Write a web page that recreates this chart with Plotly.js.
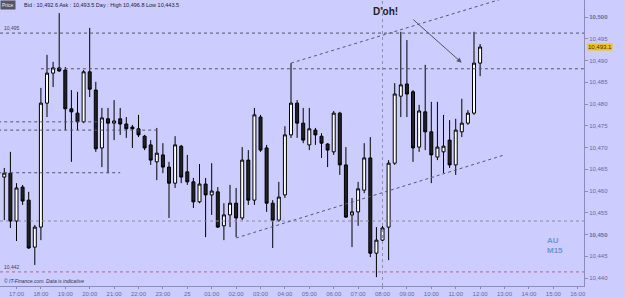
<!DOCTYPE html>
<html><head><meta charset="utf-8">
<script src="https://cdn.plot.ly/plotly-3.0.1.min.js"></script>
<style>html,body{margin:0;padding:0;background:#ccccff;}#chart{width:625px;height:298px;}</style>
</head><body><div id="chart"></div>
<script>
// 15-minute candles, first candle 16:30 on the 24th (index -2 relative to 17:00)
const firstIndex = -2;
const open  = [10463.2,10464.1,10453.1,10460.9,10457.9,10447.1,10451.7,10480.2,10487.1,10488.3,10487.8,10478.9,10477.9,10475.9,10487.4,10483.2,10469.9,10476.6,10475.6,10476.6,10475.4,10474.7,10474.3,10472.6,10470.6,10466.7,10468.3,10465.5,10461.8,10470.3,10464.4,10462.1,10457.5,10461.6,10459.1,10459.8,10452.0,10454.5,10457.2,10453.8,10467.1,10457.9,10477.0,10469.9,10457.2,10453.3,10459.1,10472.9,10480.2,10475.6,10470.6,10474.0,10472.6,10470.8,10469.0,10477.9,10466.0,10454.5,10455.2,10460.2,10467.6,10445.7,10448.7,10451.7,10466.4,10481.8,10484.6,10482.8,10470.1,10478.2,10473.6,10467.8,10469.0,10471.7,10466.0,10473.6,10475.6,10477.9,10489.4];
const high  = [10465.3,10469.0,10461.8,10461.4,10459.8,10452.2,10483.7,10491.3,10489.7,10500.9,10488.5,10483.2,10482.8,10487.8,10497.5,10485.1,10479.1,10479.1,10480.9,10479.1,10477.0,10475.2,10477.5,10472.9,10471.7,10474.5,10471.0,10466.7,10472.6,10470.6,10468.3,10463.0,10466.2,10463.0,10466.4,10460.9,10457.2,10461.4,10460.7,10470.1,10469.4,10479.1,10477.5,10470.6,10457.9,10462.1,10474.9,10489.4,10480.9,10479.1,10479.1,10474.5,10473.3,10471.0,10478.4,10478.2,10470.1,10458.4,10462.1,10471.0,10472.4,10451.7,10452.6,10467.1,10484.8,10496.6,10494.7,10483.2,10479.8,10489.0,10480.5,10480.5,10477.5,10476.3,10476.6,10481.2,10478.6,10496.6,10493.8];
const low   = [10453.3,10451.5,10448.5,10456.8,10446.7,10443.0,10448.7,10477.0,10483.9,10487.4,10474.0,10466.7,10474.0,10475.6,10481.6,10469.0,10465.5,10464.1,10471.7,10472.9,10472.2,10469.9,10472.4,10469.4,10466.0,10462.5,10464.1,10453.8,10460.7,10461.8,10461.4,10456.1,10457.2,10449.4,10454.5,10451.5,10448.7,10451.7,10449.4,10453.3,10456.8,10456.8,10469.0,10455.2,10446.9,10452.9,10458.4,10472.2,10472.2,10471.0,10469.4,10470.6,10467.6,10465.5,10468.3,10463.7,10453.8,10447.1,10452.0,10459.5,10444.8,10440.2,10448.5,10444.1,10466.0,10477.0,10477.0,10466.7,10469.0,10469.4,10461.8,10467.1,10464.1,10465.3,10463.7,10472.4,10475.2,10477.5,10486.4];
const close = [10464.1,10453.1,10460.7,10457.7,10446.9,10451.7,10480.2,10487.1,10488.3,10487.6,10478.9,10478.2,10475.9,10487.4,10483.4,10469.7,10476.8,10475.6,10476.1,10475.4,10474.3,10474.3,10472.9,10469.9,10467.1,10468.7,10465.5,10461.8,10470.6,10463.2,10462.1,10457.5,10461.6,10459.1,10460.0,10451.7,10454.5,10457.2,10453.8,10467.1,10457.9,10477.5,10469.4,10457.2,10453.3,10458.6,10472.9,10480.2,10475.6,10471.7,10474.3,10472.9,10471.0,10469.4,10477.9,10466.0,10454.0,10455.2,10460.5,10467.6,10445.7,10448.7,10451.5,10466.4,10482.3,10484.4,10482.3,10469.9,10478.4,10473.6,10468.3,10470.1,10470.3,10466.0,10474.0,10475.6,10477.9,10489.4,10493.1];

const xTickLabels = ["17:00","18:00","19:00","20:00","21:00","22:00","23:00","25","01:00","02:00","03:00","04:00","05:00","06:00","07:00","08:00","09:00","10:00","11:00","12:00","13:00","14:00","15:00","16:00"];
const yTickVals = [10440,10445,10450,10455,10460,10465,10470,10475,10480,10485,10490,10495,10500];
const yTickLabels = ["10,440","10,445","<b>10,450</b>","10,455","10,460","10,465","10,470","10,475","10,480","10,485","10,490","10,495","<b>10,500</b>"];

// time helper: candle index k (15-min steps from 17:00 on the 24th)
function t(k){
  const m = 17*60 + 15*k;
  const day = 24 + Math.floor(m/1440);
  const mm = ((m % 1440) + 1440) % 1440;
  const hh = Math.floor(mm/60), mi = mm % 60;
  const p = v => (v<10?'0':'')+v;
  const sec = Math.round((mi - Math.floor(mi))*60);
  return '2013-04-' + day + ' ' + p(hh) + ':' + p(Math.floor(mi)) + ':' + p(sec);
}
const times = open.map((_, j) => t(firstIndex + j));
const tickVals = xTickLabels.map((_, j) => t(4*j));

const trace = {
  type:'candlestick', x:times, open:open, high:high, low:low, close:close,
  increasing:{line:{color:'#000000', width:1}, fillcolor:'#ffffff'},
  decreasing:{line:{color:'#000000', width:1}, fillcolor:'#222222'},
  whiskerwidth:0, hoverinfo:'skip', showlegend:false
};

const dot = (c)=>({color:c, width:1, dash:'dot'});
const shapes = [
  {type:'line', xref:'paper', x0:0, x1:1, yref:'y', y0:10496.3, y1:10496.3, line:dot('#555566')},
  {type:'line', xref:'x', x0:t(4), x1:t(93), yref:'y', y0:10488.1, y1:10488.1, line:dot('#555566')},
  {type:'line', xref:'x', x0:t(-3), x1:t(14), yref:'y', y0:10475.9, y1:10475.9, line:dot('#555566')},
  {type:'line', xref:'x', x0:t(-3), x1:t(23), yref:'y', y0:10474.0, y1:10474.0, line:dot('#555566')},
  {type:'line', xref:'x', x0:t(-3), x1:t(17), yref:'y', y0:10464.2, y1:10464.2, line:dot('#555566')},
  {type:'line', xref:'paper', x0:0, x1:1, yref:'y', y0:10453.1, y1:10453.1, line:dot('#8a8a9a')},
  {type:'line', xref:'paper', x0:0, x1:1, yref:'y', y0:10441.4, y1:10441.4, line:dot('#c0608a')},
  {type:'line', xref:'x', x0:t(60), x1:t(60), yref:'paper', y0:0, y1:1, line:dot('#9090a8')},
  {type:'line', xref:'x', x0:t(45), x1:t(93), yref:'y', y0:10489.4, y1:10509.9, line:dot('#555577')},
  {type:'line', xref:'x', x0:t(36), x1:t(80), yref:'y', y0:10449.2, y1:10468.3, line:dot('#555577')}
];

const F = 'Liberation Sans, Arial, sans-serif';
const annotations = [
  {xref:'x', yref:'y', x:t(72.98), y:10489.5, axref:'x', ayref:'y', ax:t(64.8), ay:10499.7,
   text:'', showarrow:true, arrowhead:2, arrowsize:1, arrowwidth:1, arrowcolor:'#555566'},
  {xref:'paper', yref:'paper', x:0.685, y:0.985, yanchor:'top', text:"<b>D'oh!</b>", showarrow:false,
   font:{family:F, size:10, color:'#222222'}},
  {xref:'paper', yref:'paper', x:0.934, y:0.143, xanchor:'left', yanchor:'middle', align:'left',
   text:'<b>AU<br>M15</b>', showarrow:false,
   font:{family:F, size:8, color:'#6a98dc'}},
  {xref:'paper', yref:'paper', x:0.0, y:1.0, xanchor:'left', yanchor:'top', text:'Price', showarrow:false,
   bgcolor:'#555566', borderpad:1, font:{family:F, size:5, color:'#eeeeee'}},
  {xref:'paper', yref:'paper', x:0.038, y:1.0, xanchor:'left', yanchor:'top',
   text:'Bid : 10,492.6 Ask : 10,493.5 Day : High 10,496.8 Low 10,443.5', showarrow:false,
   font:{family:F, size:5.5, color:'#222233'}},
  {xref:'paper', yref:'y', x:0.003, y:10496.3, xanchor:'left', yanchor:'bottom', text:'10,495', showarrow:false,
   font:{family:F, size:5, color:'#444455'}},
  {xref:'paper', yref:'y', x:0.003, y:10441.4, xanchor:'left', yanchor:'bottom', text:'10,442', showarrow:false,
   font:{family:F, size:5, color:'#444455'}},
  {xref:'paper', yref:'paper', x:0.003, y:0.0, xanchor:'left', yanchor:'bottom',
   text:'<i>© IT-Finance.com. Data is indicative</i>', showarrow:false,
   font:{family:F, size:5, color:'#333344'}},
  {xref:'paper', yref:'y', x:1.0, y:10493.1, xanchor:'left', yanchor:'middle', xshift:3,
   text:'10,493.1', showarrow:false, bgcolor:'#f2c400', borderpad:0,
   font:{family:F, size:6, color:'#333333'}}
];

const layout = {
  width:625, height:298,
  margin:{l:0, r:41, t:0, b:12, pad:0},
  paper_bgcolor:'#ccccff', plot_bgcolor:'#ccccff',
  showlegend:false,
  xaxis:{type:'date', range:[t(-2.705), t(93.03)], rangeslider:{visible:false},
    tickmode:'array', tickvals:tickVals, ticktext:xTickLabels,
    showgrid:false, zeroline:false, showline:true, linecolor:'#8c8cb8', linewidth:1,
    ticks:'outside', ticklen:2, tickcolor:'#8c8cb8', automargin:false,
    tickfont:{family:F, size:6, color:'#6a6a98'}},
  yaxis:{side:'right', range:[10438.16, 10503.91], tickmode:'array', tickvals:yTickVals, ticktext:yTickLabels,
    showgrid:false, zeroline:false, showline:true, linecolor:'#8c8cb8', linewidth:1,
    ticks:'outside', ticklen:3, tickcolor:'#8c8cb8', automargin:false,
    tickfont:{family:F, size:6, color:'#6a6a98'}},
  shapes:shapes, annotations:annotations
};

Plotly.newPlot('chart', [trace], layout, {staticPlot:true, displayModeBar:false});
</script></body></html>
